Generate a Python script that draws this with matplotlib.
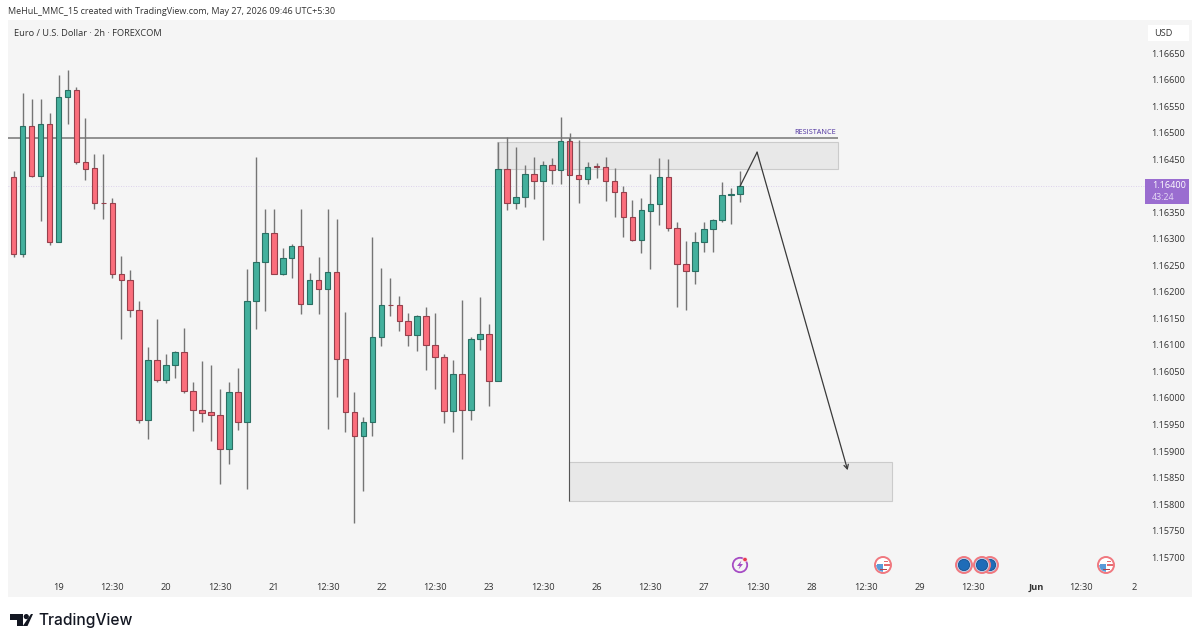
import matplotlib
matplotlib.use("Agg")
import matplotlib.pyplot as plt
from matplotlib.patches import Rectangle, Circle, Polygon, Wedge

plt.rcParams['font.family'] = ['Open Sans', 'DejaVu Sans']

# OHLC values (EUR/USD, 2h)
opens = [1.16416,1.16271,1.16513,1.16419,1.16516,1.16293,1.16567,1.16580,1.16445,1.16433,1.16368,1.16367,1.16234,1.16223,1.16165,
         1.15958,1.16071,1.16034,1.16062,1.16087,1.16014,1.15978,1.15973,1.15968,1.15903,1.16011,1.15954,1.16182,
         1.16257,1.16310,1.16234,1.16263,1.16286,1.16177,1.16222,1.16205,1.16237,1.16073,1.15974,1.15929,1.15954,1.16114,
         1.16176,1.16176,1.16145,1.16118,1.16154,1.16100,1.16078,1.15976,1.16045,1.15978,1.16111,1.16120,1.16032,
         1.16432,1.16368,1.16378,1.16422,1.16409,1.16439,1.16429,1.16484,1.16421,1.16412,1.16437,1.16436,1.16409,1.16389,
         1.16341,1.16297,1.16353,1.16365,1.16416,1.16320,1.16252,1.16239,1.16294,1.16318,1.16335,1.16382,1.16385]
highs = [1.16428,1.16575,1.16563,1.16563,1.16537,1.16609,1.16618,1.16586,1.16528,1.16459,1.16460,1.16377,1.16268,1.16241,1.16182,
         1.16096,1.16148,1.16083,1.16089,1.16131,1.16031,1.16069,1.16062,1.16017,1.16031,1.16056,1.16243,1.16454,
         1.16357,1.16356,1.16282,1.16291,1.16356,1.16236,1.16266,1.16356,1.16337,1.16162,1.16012,1.15965,1.16303,1.16244,
         1.16226,1.16192,1.16160,1.16156,1.16172,1.16160,1.16082,1.16072,1.16185,1.16114,1.16191,1.16140,1.16483,
         1.16491,1.16472,1.16439,1.16454,1.16446,1.16453,1.16529,1.16499,1.16486,1.16445,1.16443,1.16454,1.16434,1.16400,
         1.16373,1.16377,1.16422,1.16453,1.16451,1.16331,1.16295,1.16312,1.16331,1.16338,1.16407,1.16395,1.16427]
lows = [1.16266,1.16266,1.16417,1.16334,1.16288,1.16293,1.16516,1.16440,1.16410,1.16356,1.16338,1.16226,1.16111,1.16153,1.15952,
        1.15922,1.16030,1.16028,1.16037,1.16009,1.15937,1.15954,1.15919,1.15838,1.15876,1.15940,1.15829,1.16130,
        1.16163,1.16233,1.16231,1.16226,1.16159,1.16177,1.16158,1.15941,1.16001,1.15936,1.15764,1.15824,1.15929,1.16097,
        1.16155,1.16126,1.16097,1.16088,1.16053,1.16016,1.15952,1.15935,1.15885,1.15959,1.16090,1.15984,1.16032,
        1.16355,1.16357,1.16360,1.16375,1.16297,1.16404,1.16404,1.16420,1.16368,1.16404,1.16415,1.16372,1.16341,1.16304,
        1.16296,1.16273,1.16243,1.16326,1.16314,1.16172,1.16165,1.16215,1.16275,1.16276,1.16332,1.16328,1.16370]
closes = [1.16271,1.16513,1.16419,1.16516,1.16293,1.16567,1.16580,1.16445,1.16432,1.16368,1.16367,1.16233,1.16222,1.16165,1.15958,
          1.16071,1.16034,1.16062,1.16087,1.16014,1.15978,1.15972,1.15968,1.15903,1.16011,1.15954,1.16182,1.16257,
          1.16310,1.16234,1.16263,1.16286,1.16177,1.16222,1.16205,1.16237,1.16073,1.15974,1.15929,1.15954,1.16114,1.16175,
          1.16175,1.16145,1.16118,1.16154,1.16100,1.16077,1.15976,1.16045,1.15978,1.16112,1.16120,1.16032,1.16432,
          1.16368,1.16379,1.16422,1.16409,1.16439,1.16429,1.16484,1.16421,1.16412,1.16435,1.16436,1.16409,1.16389,1.16341,
          1.16297,1.16354,1.16365,1.16416,1.16320,1.16252,1.16240,1.16294,1.16318,1.16335,1.16382,1.16385,1.16400]

x_tick_pos = [5,11,17,23,29,35,41,47,53,59,65,71,77,83,89,95,101,107,114,119,125]
x_tick_labels = ['19','12:30','20','12:30','21','12:30','22','12:30','23','12:30','26','12:30',
                 '27','12:30','28','12:30','29','12:30','Jun','12:30','2']
y_ticks = [1.16650,1.16600,1.16550,1.16500,1.16450,1.16350,1.16300,1.16250,1.16200,1.16150,
           1.16100,1.16050,1.16000,1.15950,1.15900,1.15850,1.15800,1.15750,1.15700]

resistance = 1.16490
resistance_span = (-0.64, 91.9)
zone_upper = (53.9, 91.9, 1.16432, 1.16483)
zone_lower = (61.9, 98.0, 1.15806, 1.15879)
vline_x, vline_top, vline_bottom = 61.9, 1.16490, 1.15806
path_x = [81.0, 82.9, 93.0]
path_y = [1.16399, 1.16463, 1.15864]
last_price = 1.16400

W, H = 1200, 643
fig = plt.figure(figsize=(12, 6.43), dpi=100, facecolor='white')
L, R, T, B = 8, 1192, 20, 597
ax = fig.add_axes([L/W, 1-B/H, (R-L)/W, (B-T)/H], facecolor='#F5F5F5')
ax.set_xlim(-0.636, 131.4)
ax.set_ylim(1.15625, 1.167122)
for s in ax.spines.values():
    s.set_visible(False)

# drawings under candles
for (x0, x1, y0, y1) in (zone_upper, zone_lower):
    ax.add_patch(Rectangle((x0, y0), x1-x0, y1-y0, facecolor='#E8E8E8', edgecolor='#CBCBCB', lw=0.8, zorder=1))
ax.hlines(last_price, -0.64, 126.2, color='#D3C5E8', lw=0.6, ls=(0, (1, 2)), zorder=1)
ax.hlines(resistance, *resistance_span, color='#808080', lw=1.2, zorder=2)
ax.text(91.7, resistance+0.00004, 'RESISTANCE', color='#4B2E9E', fontsize=5.2, ha='right', va='bottom', zorder=5)

# candles
xs = list(range(len(opens)))
is_up = [c >= o for o, c in zip(opens, closes)]
ax.vlines(xs, lows, highs, color='#757575', lw=1.0, zorder=3)
for x, o, c, up in zip(xs, opens, closes, is_up):
    ax.bar(x, abs(c-o), bottom=min(o, c), width=0.62,
           facecolor='#43B09D' if up else '#FB6E7C',
           edgecolor='#2A6F63' if up else '#96404C', lw=0.8, zorder=4)

ax.vlines(vline_x, vline_bottom, vline_top, color='#555555', lw=0.8, zorder=5)
ax.plot(path_x[:2], path_y[:2], color='#3A3A3A', lw=0.9, zorder=6)
ax.annotate('', xy=(path_x[2], path_y[2]), xytext=(path_x[1], path_y[1]),
            arrowprops=dict(arrowstyle='->,head_length=0.3,head_width=0.16', color='#3A3A3A', lw=0.9,
                            shrinkA=0, shrinkB=0), zorder=6)

# axes ticks, inside the pane as on TradingView
ax.set_xticks(x_tick_pos)
ax.set_xticklabels(x_tick_labels)
ax.set_yticks(y_ticks)
ax.set_yticklabels([f'{v:.5f}' for v in y_ticks])
ax.yaxis.tick_right()
ax.tick_params(axis='y', length=0, pad=-29.4, labelsize=6.6, labelcolor='#333333')
ax.tick_params(axis='x', length=0, pad=-10.4, labelsize=6.7, labelcolor='#333333')
for lab in ax.get_xticklabels():
    if lab.get_text() == 'Jun':
        lab.set_fontweight('bold')

# overlay in pixel coordinates for chrome
ov = fig.add_axes([0, 0, 1, 1], facecolor='none')
ov.set_xlim(0, W); ov.set_ylim(H, 0); ov.axis('off')
ov.text(8, 12, 'MeHuL_MMC_15 created with TradingView.com, May 27, 2026 09:46 UTC+5:30',
        fontsize=6.46, color='#333333', va='center', ha='left')
ov.text(14, 33, 'Euro / U.S. Dollar · 2h · FOREXCOM', fontsize=6.65, color='#333333', va='center', ha='left')

ov.add_patch(Rectangle((1148, 25), 41, 16, facecolor='white', edgecolor='none'))
ov.text(1154, 33.5, 'USD', fontsize=6.6, color='#333333', va='center', ha='left')
ov.add_patch(Rectangle((1145, 179), 44, 25, facecolor='#9A6DD0', edgecolor='none'))
ov.text(1152, 186, f'{last_price:.5f}', fontsize=6.6, color='white', va='center', ha='left')
ov.text(1152, 197.5, '43:24', fontsize=6.4, color='#E6DAF5', va='center', ha='left')


def us_icon(cx, cy):
    ov.add_patch(Circle((cx, cy), 8, facecolor='white', edgecolor='#F0787F', lw=1.4))
    ov.add_patch(Wedge((cx, cy), 6.8, 90, 180, facecolor='#5B9BD8', edgecolor='none'))
    ov.add_patch(Rectangle((cx-6.5, cy-1), 6.5, 1.6, facecolor='#5B9BD8', edgecolor='none'))
    ov.add_patch(Rectangle((cx+0.5, cy-4.2), 4.5, 1.5, facecolor='#E56A6F', edgecolor='none'))
    ov.add_patch(Rectangle((cx+0.5, cy-0.8), 6, 1.5, facecolor='#E56A6F', edgecolor='none'))
    ov.add_patch(Rectangle((cx-3.5, cy+4), 7, 1.4, facecolor='#B2444C', edgecolor='none'))


def eu_icon(cx, cy):
    ov.add_patch(Circle((cx, cy), 8, facecolor='#BFD3EE', edgecolor='#F0787F', lw=1.4))
    ov.add_patch(Circle((cx, cy), 5.6, facecolor='#1F6CB8', edgecolor='#174E8A', lw=0.6))


ov.add_patch(Circle((740, 565), 7.2, facecolor='none', edgecolor='#A64CC4', lw=1.3))
ov.add_patch(Polygon([(741.5, 560.5), (737, 566), (739.8, 566), (738.5, 569.5), (743, 564), (740.3, 564)],
                     facecolor='#A64CC4', edgecolor='none'))
ov.add_patch(Circle((745, 559.5), 2.2, facecolor='#E8384F', edgecolor='white', lw=0.4))
us_icon(883, 565)
eu_icon(990, 565)
eu_icon(964, 565)
eu_icon(982, 565)
us_icon(1106, 565)

# logo
ov.add_patch(Polygon([(9.5, 614), (22.5, 614), (22.5, 626), (16.5, 626), (16.5, 620), (9.5, 620)],
                     facecolor='#131722', edgecolor='none'))
ov.add_patch(Circle((26.3, 616.6), 2.6, facecolor='#131722', edgecolor='none'))
ov.add_patch(Polygon([(31, 614), (33, 614), (27.5, 626), (22.8, 626)], facecolor='#131722', edgecolor='none'))
ov.text(38.5, 620, 'TradingView', fontsize=11.2, color='#131722', va='center', ha='left',
        family=['Inter', 'DejaVu Sans'], fontweight='medium')

fig.savefig('out.png', dpi=100, facecolor='white')
